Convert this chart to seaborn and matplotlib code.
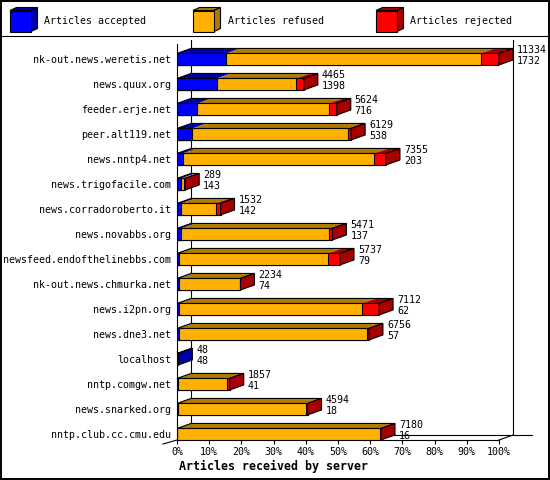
import numpy as np
import pandas as pd
import matplotlib
matplotlib.use("Agg")
import matplotlib.pyplot as plt
import seaborn as sns
from matplotlib.patches import Polygon, Rectangle
from matplotlib.lines import Line2D

servers = ["nk-out.news.weretis.net", "news.quux.org", "feeder.erje.net", "peer.alt119.net",
           "news.nntp4.net", "news.trigofacile.com", "news.corradoroberto.it", "news.novabbs.org",
           "newsfeed.endofthelinebbs.com", "nk-out.news.chmurka.net", "news.i2pn.org", "news.dne3.net",
           "localhost", "nntp.comgw.net", "news.snarked.org", "nntp.club.cc.cmu.edu"]
offered = [11334, 4465, 5624, 6129, 7355, 289, 1532, 5471, 5737, 2234, 7112, 6756, 48, 1857, 4594, 7180]
accepted = [1732, 1398, 716, 538, 203, 143, 142, 137, 79, 74, 62, 57, 48, 41, 18, 16]
refused = [8966, 2792, 4625, 5487, 6740, 120, 1225, 5218, 5241, 2150, 6458, 6615, 0, 1710, 4536, 7126]
rejected = [636, 275, 283, 104, 412, 26, 165, 116, 417, 10, 592, 84, 0, 106, 40, 38]
ticks = [0, 10, 20, 30, 40, 50, 60, 70, 80, 90, 100]
series_names = ["Articles accepted", "Articles refused", "Articles rejected"]
front_cols = ["#0000ff", "#ffb000", "#ff0000"]
dark_cols = ["#0000a8", "#b07c00", "#a80000"]

FONT = "DejaVu Sans Mono"
W, H = 550, 480
fig = plt.figure(figsize=(5.5, 4.8), dpi=100)

# plot area in pixels
L, R, T, B = 177, 499, 44, 440
ax = fig.add_axes([L / W, (H - B) / H, (R - L) / W, (B - T) / H])

mx = max(offered)
df = pd.DataFrame({
    "server": servers,
    "acc": [a / mx * 100 for a in accepted],
    "accref": [(a + r) / mx * 100 for a, r in zip(accepted, refused)],
    "tot": [(a + r + j) / mx * 100 for a, r, j in zip(accepted, refused, rejected)],
})
bh = 0.46
lw = 0.8
for col, c in zip(["tot", "accref", "acc"], front_cols[::-1]):
    sns.barplot(data=df, x=col, y="server", orient="h", color=c, width=bh,
                edgecolor="black", linewidth=lw, errorbar=None, ax=ax, saturation=1, zorder=3)

n = len(servers)
ytop_px = 59.2
row_px = 25.0
ax.set_xlim(0, 100)
ax.set_ylim(n - 1 + (B - (ytop_px + row_px * (n - 1))) / row_px, -(ytop_px - T) / row_px)
ybot = ax.get_ylim()[0]
ytop = ax.get_ylim()[1]

dxd = 14 * 100 / (R - L)
dyd = 5 / row_px

# 3D top and side faces
for i in range(n):
    segs = [(0, df.acc[i]), (df.acc[i], df.accref[i]), (df.accref[i], df.tot[i])]
    yt = i - bh / 2
    yb = i + bh / 2
    last = 0
    for k, (a, b) in enumerate(segs):
        if b - a > 0:
            last = k
            ax.add_patch(Polygon([(a, yt), (b, yt), (b + dxd, yt - dyd), (a + dxd, yt - dyd)],
                                 closed=True, facecolor=dark_cols[k], edgecolor="none",
                                 zorder=4, clip_on=False))
    tot = df.tot[i]
    ax.add_patch(Polygon([(0, yt), (tot, yt), (tot + dxd, yt - dyd), (dxd, yt - dyd)],
                         closed=True, facecolor="none", edgecolor="black", linewidth=lw,
                         zorder=5, clip_on=False))
    ax.add_patch(Polygon([(tot, yt), (tot + dxd, yt - dyd), (tot + dxd, yb - dyd), (tot, yb)],
                         closed=True, facecolor=dark_cols[last], edgecolor="black", linewidth=lw,
                         zorder=5, clip_on=False))
    lx = tot + dxd + 4 * 100 / (R - L)
    ax.text(lx, i - 0.36, str(offered[i]), ha="left", va="center", fontsize=7.2,
            family=FONT, zorder=6)
    ax.text(lx, i + 0.06, str(accepted[i]), ha="left", va="center", fontsize=7.2,
            family=FONT, zorder=6)

# 3D frame
yback_top = ytop - 4 / row_px
fl = dict(color="black", linewidth=lw, clip_on=False, zorder=1)
ax.add_line(Line2D([dxd, dxd], [yback_top, ybot - dyd], **fl))
ax.add_line(Line2D([100 + dxd, 100 + dxd], [yback_top, ybot - dyd], **fl))
ax.add_line(Line2D([dxd, 100 + dxd + 19 * 100 / (R - L)], [ybot - dyd, ybot - dyd], **fl))
ax.add_line(Line2D([100, 100 + dxd], [ybot, ybot - dyd], **fl))
ax.add_line(Line2D([0, -dxd], [ybot, ybot + dyd * 0.8], **fl))

for s in ["top", "right"]:
    ax.spines[s].set_visible(False)
for s in ["left", "bottom"]:
    ax.spines[s].set_linewidth(lw)
    ax.spines[s].set_zorder(2)
ax.set_facecolor("none")
ax.set_xticks(ticks)
ax.set_xticklabels([f"{t}%" for t in ticks], family=FONT, fontsize=7.2)
ax.set_yticks(range(n))
ax.set_yticklabels(servers, family=FONT, fontsize=7.2)
ax.tick_params(axis="y", length=0, pad=4.3)
ax.tick_params(axis="x", length=3, width=lw, direction="out", pad=2)
ax.set_xlabel("")
ax.set_ylabel("")

fig.text(179 / W, 1 - 466.5 / H, "Articles received by server", family=FONT,
         fontweight="bold", fontsize=8.4, ha="left", va="center")

# overlay axes for legend and border (pixel coords)
ov = fig.add_axes([0, 0, 1, 1], zorder=-1)
ov.set_xlim(0, W)
ov.set_ylim(H, 0)
ov.axis("off")
ov.add_patch(Rectangle((0.8, 0.8), W - 2.2, H - 2.2, facecolor="none", edgecolor="black", linewidth=1.4))
ov.add_line(Line2D([0, W], [36, 36], color="black", linewidth=lw))
leg_x = [10, 193, 376]
s, cdx, cdy = 21, 6.5, 3
for x0, name, fc, dc in zip(leg_x, series_names, front_cols, dark_cols):
    y0 = 10.5
    ov.add_patch(Polygon([(x0, y0), (x0 + cdx, y0 - cdy), (x0 + s + cdx, y0 - cdy), (x0 + s, y0)],
                         closed=True, facecolor=dc, edgecolor="black", linewidth=lw))
    ov.add_patch(Polygon([(x0 + s, y0), (x0 + s + cdx, y0 - cdy), (x0 + s + cdx, y0 + s - cdy), (x0 + s, y0 + s)],
                         closed=True, facecolor=dc, edgecolor="black", linewidth=lw))
    ov.add_patch(Rectangle((x0, y0), s, s, facecolor=fc, edgecolor="black", linewidth=lw))
    ov.text(x0 + 34.5, 21, name, family=FONT, fontsize=7.2, ha="left", va="center")

fig.savefig("out.png", dpi=100, facecolor="white")
